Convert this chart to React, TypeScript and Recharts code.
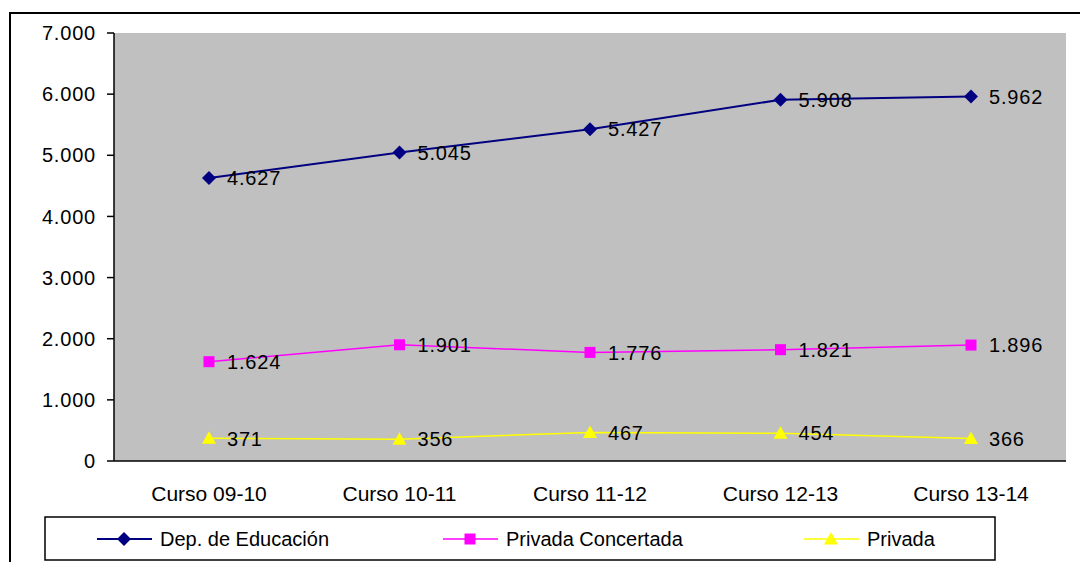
import React from 'react';
import { LineChart, Line, XAxis, YAxis, CartesianGrid, LabelList } from 'recharts';

const categories = ['Curso 09-10', 'Curso 10-11', 'Curso 11-12', 'Curso 12-13', 'Curso 13-14'];
const depEducacion = [4627, 5045, 5427, 5908, 5962];
const privadaConcertada = [1624, 1901, 1776, 1821, 1896];
const privada = [371, 356, 467, 454, 366];
const yTicks = [0, 1000, 2000, 3000, 4000, 5000, 6000, 7000];
const boundaryTicks = [0, 1, 2, 3, 4, 5];

const FONT = '"Liberation Sans", Arial, sans-serif';

const data = categories.map((name, i) => ({
  name,
  dep: depEducacion[i],
  conc: privadaConcertada[i],
  priv: privada[i],
}));

const fmt = (v: number) => String(v).replace(/\B(?=(\d{3})+(?!\d))/g, '.');

type Shape = 'diamond' | 'square' | 'triangle';

const series: { key: string; name: string; color: string; width: number; shape: Shape }[] = [
  { key: 'dep', name: 'Dep. de Educación', color: '#000080', width: 2, shape: 'diamond' },
  { key: 'conc', name: 'Privada Concertada', color: '#FF00FF', width: 1.5, shape: 'square' },
  { key: 'priv', name: 'Privada', color: '#FFFF00', width: 1.5, shape: 'triangle' },
];

function Marker({ cx, cy, shape, color }: { cx: number; cy: number; shape: Shape; color: string }) {
  if (cx == null || cy == null) return null;
  if (shape === 'diamond') {
    return <polygon points={`${cx},${cy - 7} ${cx + 7},${cy} ${cx},${cy + 7} ${cx - 7},${cy}`} fill={color} />;
  }
  if (shape === 'square') {
    return <rect x={cx - 5.5} y={cy - 5.5} width={11} height={11} fill={color} />;
  }
  return <polygon points={`${cx},${cy - 7} ${cx + 7},${cy + 5.5} ${cx - 7},${cy + 5.5}`} fill={color} />;
}

const renderLabel = (props: any) => {
  const { x, y, value } = props;
  return (
    <text x={x + 18} y={y} dy="0.36em" fontSize={20} letterSpacing={0.8} fontFamily={FONT} fill="#000">
      {fmt(value)}
    </text>
  );
};

// legend drawn separately so it doesn't eat into the plot offset
function LegendBox() {
  const items = [
    { s: series[0], lx: 53 },
    { s: series[1], lx: 399 },
    { s: series[2], lx: 760 },
  ];
  return (
    <svg width={952} height={45} style={{ position: 'absolute', left: 44, top: 516 }}>
      <rect x={1} y={1} width={950} height={43} fill="#fff" stroke="#000" strokeWidth={1.5} />
      {items.map(({ s, lx }) => (
        <g key={s.key}>
          <line x1={lx} x2={lx + 55} y1={23} y2={23} stroke={s.color} strokeWidth={s.width} />
          <Marker cx={lx + 27} cy={23} shape={s.shape} color={s.color} />
          <text x={lx + 63} y={23} dy="0.36em" fontSize={20} fontFamily={FONT} fill="#000">
            {s.name}
          </text>
        </g>
      ))}
    </svg>
  );
}

export default function App() {
  return (
    <div style={{ position: 'absolute', left: 0, top: 0, width: 1080, height: 562, background: '#fff', overflow: 'hidden' }}>
      <div
        style={{
          position: 'absolute',
          left: 9,
          top: 12,
          width: 1100,
          height: 600,
          borderLeft: '2px solid #000',
          borderTop: '2px solid #000',
        }}
      />
      <LineChart
        width={1080}
        height={562}
        data={data}
        margin={{ top: 33, right: 14, left: 0, bottom: 61 }}
        style={{ position: 'absolute', left: 0, top: 0 }}
      >
        <CartesianGrid horizontal={false} vertical={false} fill="#C0C0C0" />
        <XAxis
          xAxisId="top"
          orientation="top"
          dataKey="name"
          height={0}
          tick={false}
          tickLine={false}
          axisLine={{ stroke: '#808080', strokeWidth: 1.5 }}
          padding={{ left: 95, right: 95 }}
        />
        <YAxis
          yAxisId="right"
          orientation="right"
          width={0}
          domain={[0, 7000]}
          tick={false}
          tickLine={false}
          axisLine={{ stroke: '#808080', strokeWidth: 1.5 }}
        />
        <XAxis
          xAxisId="bounds"
          type="number"
          domain={[0, 5]}
          ticks={boundaryTicks}
          height={0}
          tick={false}
          tickSize={7}
          axisLine={false}
          tickLine={{ stroke: '#000', strokeWidth: 1.5 }}
        />
        <XAxis
          dataKey="name"
          height={40}
          padding={{ left: 95, right: 95 }}
          tickLine={false}
          tickSize={6}
          tickMargin={19}
          axisLine={{ stroke: '#000', strokeWidth: 1.5 }}
          tick={{ fontSize: 21, fontFamily: FONT, fill: '#000' }}
          interval={0}
        />
        <YAxis
          width={114}
          domain={[0, 7000]}
          ticks={yTicks}
          tickFormatter={fmt}
          tickSize={7}
          tickMargin={11}
          axisLine={{ stroke: '#000', strokeWidth: 1.5 }}
          tickLine={{ stroke: '#000', strokeWidth: 1.5 }}
          tick={{ fontSize: 20, fontFamily: FONT, fill: '#000', letterSpacing: 0.8 }}
          interval={0}
        />
        {series.map((s) => (
          <Line
            key={s.key}
            dataKey={s.key}
            name={s.name}
            stroke={s.color}
            strokeWidth={s.width}
            isAnimationActive={false}
            dot={(p: any) => <Marker key={`${s.key}-${p.index}`} cx={p.cx} cy={p.cy} shape={s.shape} color={s.color} />}
            activeDot={false}
          >
            <LabelList dataKey={s.key} content={renderLabel} />
          </Line>
        ))}
      </LineChart>
      <LegendBox />
    </div>
  );
}
